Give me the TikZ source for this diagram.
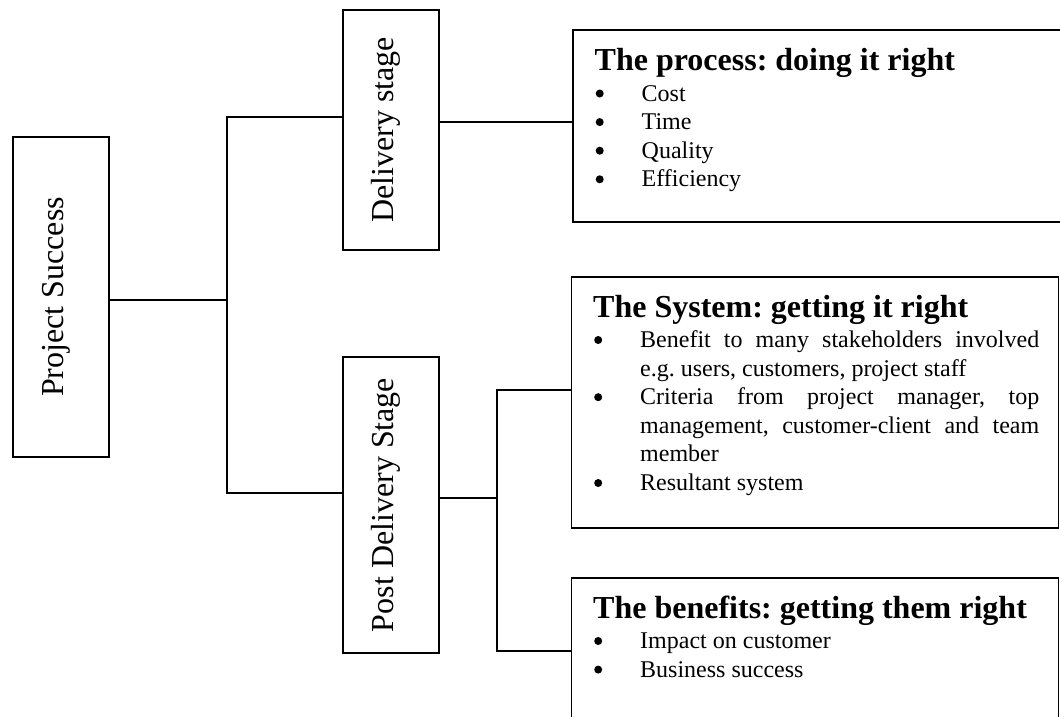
\documentclass[tikz,border=0pt]{standalone}
\usepackage{fontspec}
\usepackage{graphicx}
\setmainfont{Liberation Serif}
\hyphenpenalty=10000
\exhyphenpenalty=10000
\tolerance=9999
\frenchspacing

% rotated stage label with fixed height/depth so it sits centred in its box
\newcommand\vlabel[1]{\rotatebox{90}{\raisebox{0pt}[20pt][16pt]{#1}}}
% bold panel heading
\newcommand\panelhead[1]{{\fontsize{32}{38}\selectfont\bfseries\rule{0pt}{24pt}#1\par}\vspace{1.7pt}}
% round bullet, drawn as a small filled disc
\newcommand\bigdot{\tikz[baseline=0pt,x=1pt,y=1pt]{\fill (0,7.5) circle (4);}}
% bulleted item with hanging indent
\newcommand\pitem{\par\noindent\hangindent=47pt\hangafter=1\makebox[47pt][l]{\hspace{5pt}\makebox[0pt]{\bigdot}}}

\begin{document}
\begin{tikzpicture}[x=1pt,y=-1pt,
  stage/.style={draw, line width=1.5pt, inner sep=0pt, outer sep=0pt,
    font=\fontsize{32}{38}\selectfont},
  panel/.style={draw, line width=1.5pt, inner sep=0pt, outer sep=0pt, anchor=north west},
  panetext/.style={anchor=north west, inner sep=0pt, text width=446pt, align=justify,
    font=\fontsize{24}{28.6}\selectfont},
  link/.style={line width=1.5pt}]
\useasboundingbox (0,0) rectangle (1060,717);
\clip (0,0) rectangle (1060,717);

% stage boxes
\node[stage, minimum width=96pt, minimum height=320pt] (ps) at (61,297) {\vlabel{Project Success}};
\node[stage, minimum width=96pt, minimum height=240pt] (ds) at (391,130) {\vlabel{Delivery stage}};
\node[stage, minimum width=96pt, minimum height=296pt] (pd) at (391,505) {\vlabel{Post Delivery Stage}};

% outcome panels
\node[panel, minimum width=489pt, minimum height=192pt] (r1) at (573,30) {};
\node[panel, minimum width=487pt, minimum height=251pt] (r2) at (571.5,277) {};
\node[panel, minimum width=487pt, minimum height=145pt] (r3) at (571.5,578) {};

\node[panetext] (t1) at ([shift={(21.5pt,-16.5pt)}]r1.north west) {%
  \panelhead{The process: doing it right}%
  \pitem Cost
  \pitem Time
  \pitem Quality
  \pitem Efficiency\par};
\node[panetext] (t2) at ([shift={(21.5pt,-16pt)}]r2.north west) {%
  \panelhead{The System: getting it right}%
  \pitem Benefit to many stakeholders involved e.g. users, customers, project staff
  \pitem Criteria from project manager, top management, customer-client and team member
  \pitem Resultant system\par};
\node[panetext] (t3) at ([shift={(21.5pt,-16pt)}]r3.north west) {%
  \panelhead{The benefits: getting them right}%
  \pitem Impact on customer
  \pitem Business success\par};

% connectors
\coordinate (b1) at (227,117);
\coordinate (b2) at (227,493);
\coordinate (p1) at ([yshift=-3pt]ps.east);
\draw[link] (b1 -| ds.west) -- (b1) -- (b2) -- (b2 -| pd.west);
\draw[link] (p1) -- (p1 -| b1);

\coordinate (p2) at ([yshift=8pt]ds.east);
\draw[link] (p2) -- (p2 -| r1.west);

\coordinate (b3) at (497,390);
\coordinate (b4) at (497,651);
\coordinate (p3) at ([yshift=7pt]pd.east);
\draw[link] (b3 -| r2.west) -- (b3) -- (b4) -- (b4 -| r3.west);
\draw[link] (p3) -- (p3 -| b3);
\end{tikzpicture}
\end{document}
